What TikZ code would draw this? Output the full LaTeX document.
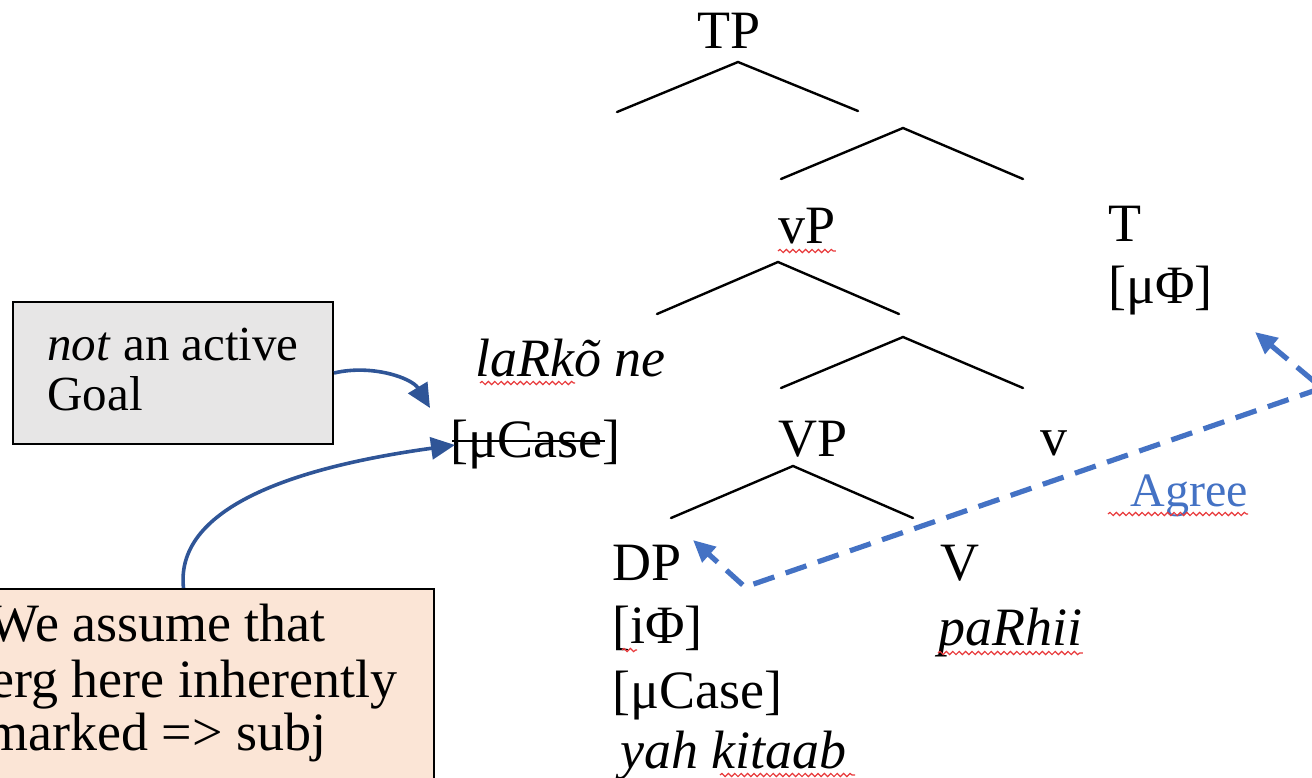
\documentclass[tikz,border=0pt]{standalone}
\usepackage{fontspec}
\setmainfont{Liberation Serif}
\usetikzlibrary{arrows.meta,decorations.pathmorphing}
\definecolor{agreeblue}{HTML}{4472C4}
\definecolor{notearrow}{HTML}{2F5597}
\definecolor{notegray}{HTML}{E7E6E6}
\definecolor{notepeach}{HTML}{FBE5D6}
\definecolor{spellred}{HTML}{E8393B}
\begin{document}
\begin{tikzpicture}[x=0.5pt,y=-0.5pt,
  lbl/.style={anchor=base west,inner sep=0pt,font=\fontsize{27}{32}\selectfont},
  boxtxt/.style={anchor=base west,inner sep=0pt,font=\fontsize{27}{32}\selectfont},
  goaltxt/.style={anchor=base west,inner sep=0pt,font=\fontsize{24.5}{29}\selectfont},
  notebox/.style={draw=black,line width=1pt,anchor=north west,inner sep=0pt},
  branch/.style={line width=1.2pt,line cap=round},
  notelink/.style={notearrow,line width=1.8pt,-{Triangle[length=12pt,width=11pt]}},
  agreelink/.style={agreeblue,line width=2.6pt,dash pattern=on 11pt off 6pt,
    {Triangle[length=11pt,width=10pt]}-{Triangle[length=11pt,width=10pt]}},
  spell/.style={spellred,line width=0.6pt,decorate,
    decoration={snake,amplitude=0.8pt,segment length=3.2pt}}]
\useasboundingbox (0,0) rectangle (1312,777);
\clip (0,0) rectangle (1312,777);

% tree labels
\node[lbl] (tp) at (697,48) {TP};
\node[lbl] (vp) at (778,243) {vP};
\node[lbl] (t) at (1108,241) {T};
\node[lbl] (tmu) at (1108,303) {[μΦ]};
\node[lbl] (erg) at (475,376) {\itshape laRkõ ne};
\node[lbl] (struck) at (450,457) {[μCase]};
\node[lbl] (bigvp) at (778,456) {VP};
\node[lbl] (v) at (1040,455) {v};
\node[lbl] (dp) at (612,580) {DP};
\node[lbl] (dpphi) at (612,643) {[iΦ]};
\node[lbl] (dpcase) at (612,708) {[μCase]};
\node[lbl] (dpword) at (620,768) {\itshape yah kitaab};
\node[lbl] (bigv) at (940,580) {V};
\node[lbl] (verb) at (938,645) {\itshape paRhii};
\node[anchor=base west,inner sep=0pt,font=\fontsize{24}{29}\selectfont,text=agreeblue]
  (agree) at (1130,506) {Agree};

% struck-out case feature of the ergative subject
\draw[line width=1pt] ([xshift=1pt,yshift=8pt]struck.base west)
  -- ([xshift=-8pt,yshift=8pt]struck.base east);

% branches
\coordinate (tp-l) at (617,112); \coordinate (tp-a) at (738,62); \coordinate (tp-r) at (858,111);
\coordinate (tb-l) at (781,179); \coordinate (tb-a) at (903,128); \coordinate (tb-r) at (1023,179);
\coordinate (vp-l) at (657,314); \coordinate (vp-a) at (778,262); \coordinate (vp-r) at (899,314);
\coordinate (vb-l) at (781,388); \coordinate (vb-a) at (903,337); \coordinate (vb-r) at (1023,388);
\coordinate (bv-l) at (671,518); \coordinate (bv-a) at (793,466); \coordinate (bv-r) at (913,518);
\draw[branch] (tp-l) -- (tp-a) -- (tp-r);
\draw[branch] (tb-l) -- (tb-a) -- (tb-r);
\draw[branch] (vp-l) -- (vp-a) -- (vp-r);
\draw[branch] (vb-l) -- (vb-a) -- (vb-r);
\draw[branch] (bv-l) -- (bv-a) -- (bv-r);

% spell-check underlines
\draw[spell] ([yshift=-4pt]vp.base west) -- ([yshift=-4pt]vp.base east);
\draw[spell] (480,383) -- (575,383);
\draw[spell] ([xshift=-11pt,yshift=-4pt]agree.base west) -- ([yshift=-4pt]agree.base east);
\draw[spell] (622,650) -- (637,650);
\draw[spell] ([yshift=-4pt]verb.base west) -- ([yshift=-4pt]verb.base east);
\draw[spell] (720,775) -- (855,775);

% note boxes
\node[notebox,fill=notegray,minimum width=160pt,minimum height=71pt] (goal) at (12,301) {};
\node[goaltxt] (goal1) at (47,360) {\textit{not} an active};
\node[goaltxt] (goal2) at (47,410) {Goal};
\node[notebox,fill=notepeach,minimum width=221.5pt,minimum height=106pt] (assume) at (-10,588) {};
\node[boxtxt] (assume1) at (-12,641) {We assume that};
\node[boxtxt] (assume2) at (-10,697) {erg here inherently};
\node[boxtxt] (assume3) at (-14,750) {marked => subj};

% note arrows
\coordinate (goal-tip) at (430,408);
\coordinate (assume-tip) at (455,445);
\draw[notelink] (goal.east) .. controls (372,364) and (412,378) .. (goal-tip);
\draw[notelink] ([xshift=-14.5pt]assume.north) .. controls (176,520) and (260,472) .. (assume-tip);

% Agree relation
\coordinate (t-tip) at (1255,332);
\coordinate (agree-r) at (1322,388);
\coordinate (agree-l) at (745,587);
\coordinate (dp-tip) at (693,540);
\draw[agreelink] (t-tip) -- (agree-r) -- (agree-l) -- (dp-tip);
\end{tikzpicture}
\end{document}
